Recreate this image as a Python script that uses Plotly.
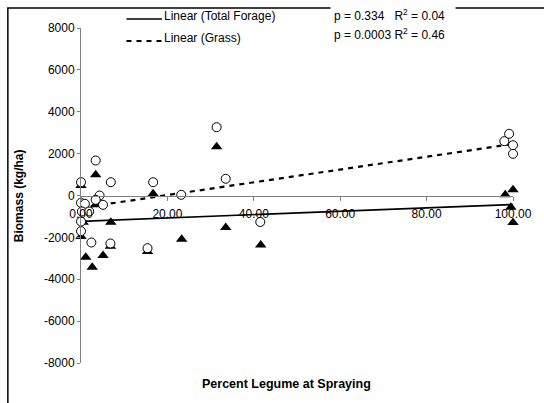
import plotly.graph_objects as go

# Percent legume at spraying (x) and biomass change (kg/ha)
grass_x = [0.0, 3.4, 6.9, 16.7, 23.2, 4.3, 3.4, 5.1, 0.0, 0.9, 0.2, 1.9,
           0.0, 0.0, 2.4, 6.8, 15.4, 31.4, 33.5, 41.5, 98.0, 99.1, 100.0, 100.0]
grass_y = [635, 1672, 635, 635, 33, 0, -205, -444, -349, -397, -764, -764,
           -1242, -1705, -2245, -2292, -2516, 3262, 798, -1265, 2595, 2946, 2403, 1990]

forage_x = [0.0, 3.4, 16.7, 3.4, 0.5, 6.9, 0.0, 6.8, 1.1, 5.1, 2.6, 15.4,
            23.3, 33.5, 31.4, 41.6, 98.2, 100.0, 99.5, 100.0]
forage_y = [478, 988, 80, -444, -1275, -1275, -1958, -2420, -2945, -2865, -3424, -2675,
            -2087, -1529, 2324, -2364, 32, 271, -560, -1290]

# Linear trendline end points
trend_x = [0, 100]
trend_forage_y = [-1235, -430]
trend_grass_y = [-590, 2460]

trend_names = ["Linear (Total Forage)", "Linear (Grass)"]

x_tick_vals = [0, 20, 40, 60, 80, 100]
y_tick_vals = [-8000, -6000, -4000, -2000, 0, 2000, 4000, 6000, 8000]
y_tick_text = ["-8000", "-6000", "-4000", "-2000", "0", "2000", "4000", "6000", "8000"]

FONT = "Liberation Sans, Arial, sans-serif"
W, H = 544, 403
L, R, T, B = 81, 26, 28, 40
PW, PH = W - L - R, H - T - B


def px_x(p):
    return (p - L) / PW


def px_y(p):
    return (H - B - p) / PH


fig = go.Figure()

solid = dict(color="black", width=1.6)
dashed = dict(color="black", width=2.2, dash="5px,5px")

fig.add_trace(go.Scatter(x=trend_x, y=trend_forage_y, mode="lines",
                         name=trend_names[0], line=solid, showlegend=False))
fig.add_trace(go.Scatter(x=trend_x, y=trend_grass_y, mode="lines",
                         name=trend_names[1], line=dashed, showlegend=False))

fig.add_trace(go.Scatter(
    x=forage_x, y=forage_y, mode="markers", name="Total Forage", showlegend=False,
    marker=dict(symbol="triangle-up", size=10, color="black"), cliponaxis=False))
fig.add_trace(go.Scatter(
    x=grass_x, y=grass_y, mode="markers", name="Grass", showlegend=False,
    marker=dict(symbol="circle", size=9, color="white", line=dict(color="black", width=1)),
    cliponaxis=False))

axis_col = "#808080"
fig.update_xaxes(
    range=[0, 100], tickvals=x_tick_vals, tickformat=".2f",
    anchor="free", position=0.5,
    showline=True, linecolor=axis_col, linewidth=1,
    ticks="outside", ticklen=4, tickcolor=axis_col, ticklabelstandoff=3,
    showgrid=False, zeroline=False,
    tickfont=dict(family=FONT, size=12, color="black"))
fig.update_yaxes(
    range=[-8000, 8000], tickvals=y_tick_vals, ticktext=y_tick_text,
    showline=True, linecolor=axis_col, linewidth=1,
    ticks="outside", ticklen=3, tickcolor=axis_col,
    showgrid=False, zeroline=False,
    tickfont=dict(family=FONT, size=12, color="black"))

# Chart-area border
fig.add_shape(type="rect", xref="paper", yref="paper",
              x0=px_x(7), x1=px_x(560), y0=px_y(420), y1=px_y(8),
              line=dict(color="black", width=1.5), fillcolor="rgba(0,0,0,0)", layer="below")

# Legend for the two trendlines: line sample sitting on the text baseline
for name, style, ty in zip(trend_names, [solid, dashed], [16, 38]):
    fig.add_shape(type="line", xref="paper", yref="paper",
                  x0=px_x(127), x1=px_x(163), y0=px_y(ty + 3), y1=px_y(ty + 3),
                  line=style)
    fig.add_annotation(xref="paper", yref="paper", x=px_x(163), y=px_y(ty),
                       xanchor="left", yanchor="middle", text=name, showarrow=False,
                       font=dict(family=FONT, size=12, color="black"))

fig.add_annotation(xref="paper", yref="paper", x=px_x(333), y=px_y(15),
                   xanchor="left", yanchor="middle", align="left", width=118,
                   text="p = 0.334\u00a0\u00a0 R<sup>2</sup> = 0.04",
                   showarrow=False, bgcolor="white", borderpad=3,
                   font=dict(family=FONT, size=12, color="black"))
fig.add_annotation(xref="paper", yref="paper", x=px_x(333), y=px_y(34),
                   xanchor="left", yanchor="middle", align="left", width=118,
                   text="p = 0.0003 R<sup>2</sup> = 0.46",
                   showarrow=False, borderpad=3,
                   font=dict(family=FONT, size=12, color="black"))

fig.add_annotation(xref="paper", yref="paper", x=px_x(289), y=px_y(384),
                   xanchor="center", yanchor="middle",
                   text="<b>Percent Legume at Spraying</b>", showarrow=False,
                   font=dict(family=FONT, size=12.5, color="black"))
fig.add_annotation(xref="paper", yref="paper", x=px_x(18), y=0.5, textangle=-90,
                   xanchor="center", yanchor="middle",
                   text="<b>Biomass (kg/ha)</b>", showarrow=False,
                   font=dict(family=FONT, size=12, color="black"))

fig.update_layout(
    width=W, height=H, margin=dict(l=L, r=R, t=T, b=B),
    paper_bgcolor="white", plot_bgcolor="white",
    font=dict(family=FONT, size=12, color="black"),
    showlegend=False,
)

fig.write_html("out.html")
